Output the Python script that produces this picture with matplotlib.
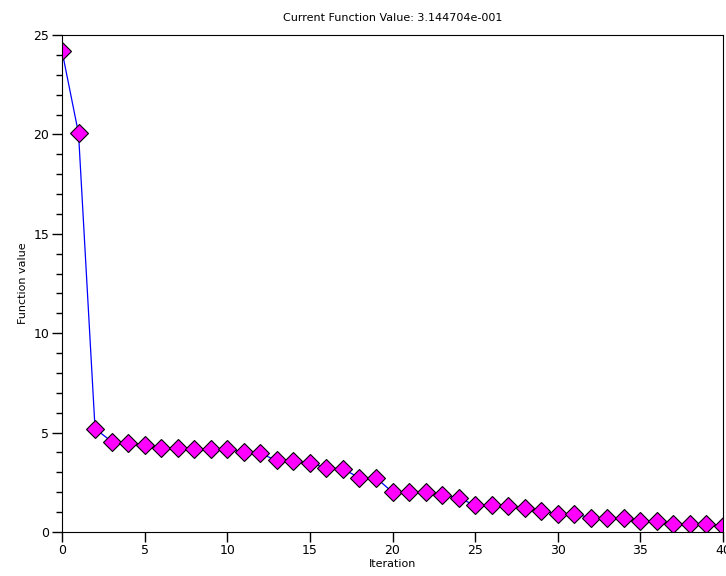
import numpy as np
import matplotlib
matplotlib.use("Agg")
import matplotlib.pyplot as plt
from matplotlib.ticker import MultipleLocator

# valeurs
iterations = list(range(41))
fvals = [24.2, 20.05, 5.2, 4.55, 4.5, 4.38, 4.24, 4.22, 4.2, 4.17,
         4.17, 4.02, 3.95, 3.6, 3.58, 3.45, 3.24, 3.17, 2.73, 2.73,
         2.0, 2.0, 2.0, 1.85, 1.72, 1.34, 1.34, 1.33, 1.19, 1.07,
         0.9, 0.93, 0.7, 0.7, 0.7, 0.57, 0.57, 0.4, 0.4, 0.39, 0.3145]

fig = plt.figure(figsize=(7.26, 5.76), dpi=100)
ax = fig.add_axes([62/726, 1-532/576, (723-62)/726, (532-35)/576])

ax.plot(iterations, fvals, color='#0000ff', lw=0.9,
        marker='D', ms=9.5, markerfacecolor='#ff00ff', markeredgecolor='black', mew=0.8)

ax.set_xlim(0, 40)
ax.set_ylim(0, 25)
ax.xaxis.set_major_locator(MultipleLocator(5))
ax.yaxis.set_major_locator(MultipleLocator(5))
ax.yaxis.set_minor_locator(MultipleLocator(1))
ax.tick_params(direction='out', length=7, width=1, labelsize=9, pad=2)
ax.tick_params(which='minor', direction='out', length=4, width=1)

ax.set_title('Current Function Value: 3.144704e-001', fontsize=8, pad=10)
ax.set_xlabel('Iteration', fontsize=8, labelpad=1)
ax.set_ylabel('Function value', fontsize=8, labelpad=4)

fig.savefig('out.png', dpi=100)
